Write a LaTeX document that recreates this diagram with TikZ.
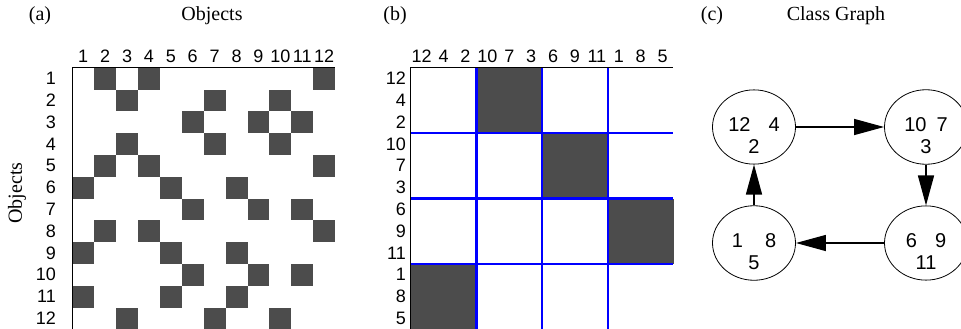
\documentclass[tikz,border=0pt]{standalone}
\usepackage{fontspec}
\setmainfont{Liberation Serif}
\setsansfont{Liberation Sans}
\usepackage{xcolor}
\usetikzlibrary{positioning,arrows.meta,shapes.geometric}
\definecolor{cellgray}{gray}{0.3}
\tikzset{
  ttl/.style={anchor=base,font=\fontsize{20}{24}\selectfont},
  collbl/.style={anchor=base,inner sep=0pt,font=\sffamily\fontsize{18}{20}\selectfont},
  rowlbl/.style={anchor=east,inner sep=0pt,font=\sffamily\fontsize{18}{20}\selectfont},
  cls/.style={draw,ellipse,line width=0.8pt,minimum width=83pt,minimum height=62pt,inner sep=0pt,align=center,font=\sffamily\fontsize{20}{21.5}\selectfont},
  flow/.style={-{Triangle[length=30pt,width=16pt]},line width=1.3pt},
  frame/.style={line width=0.9pt},
  sep/.style={draw=blue,line width=2.2pt},
}

\begin{document}
\begin{tikzpicture}[x=1pt,y=-1pt]
  \useasboundingbox (0,0) rectangle (961,329);
  % titles
  \node[ttl] (pa) at (40,21) {(a)};
  \node[ttl] (ta) at (212,21) {Objects};
  \node[ttl] (pb) at (395,21) {(b)};
  \node[ttl] (pc) at (712,21) {(c)};
  \node[ttl] (tc) at (836,21) {Class Graph};
  \node[ttl,anchor=center,rotate=90] (ya) at (17,193) {Objects};

  % (a) object adjacency, original order
  \foreach \r/\ca/\cb/\cc in {1/2/4/12,2/3/7/10,3/6/9/11,4/3/7/10,5/2/4/12,6/1/5/8,
                              7/6/9/11,8/2/4/12,9/1/5/8,10/6/9/11,11/1/5/8,12/3/7/10}
    \foreach \c in {\ca,\cb,\cc}
      \fill[cellgray] ({72.3+(\c-1)*21.9},{67.7+(\r-1)*21.8}) rectangle +(21.9,21.8);
  \foreach \i in {1,...,12} {
    \node[collbl] (ac\i) at ({72.3+(\i-0.5)*21.9},63) {\i};
    \node[rowlbl] (ar\i) at (56,{67.7+(\i-0.5)*21.8}) {\i};
  }
  \draw[frame] (72.3,332) -- (72.3,67.7) -- (335,67.7);

  % (b) same matrix, sorted by class
  \foreach \r/\c in {0/1,1/2,2/3,3/0}
    \fill[cellgray] ({410.7+3*\c*21.9},{67.7+3*\r*21.8}) rectangle +(65.7,65.4);
  \foreach \n [count=\i] in {12,4,2,10,7,3,6,9,11,1,8,5} {
    \node[collbl] (bc\i) at ({410.7+(\i-0.5)*21.9},63) {\n};
    \node[rowlbl] (br\i) at (406,{67.7+(\i-0.5)*21.8}) {\n};
  }
  \foreach \k in {1,2,3} {
    \draw[sep] ({410.7+3*\k*21.9},67.7) -- ++(0,265);
    \draw[sep] (410.7,{67.7+3*\k*21.8}) -- (673.3,{67.7+3*\k*21.8});
  }
  \draw[frame] (410.7,332) -- (410.7,67.7) -- (673.3,67.7);

  % (c) class graph
  \node[cls] (c1) at (754,127) {\rule{0pt}{31pt}12\hspace{18pt}4\\2};
  \node[cls] (c2) at (926,127) {\rule{0pt}{31pt}10\hspace{10pt}7\\3};
  \node[cls] (c3) at (926,243) {\rule{0pt}{31pt}6\hspace{18pt}9\\11};
  \node[cls] (c4) at (754,243) {\rule{0pt}{31pt}1\hspace{22pt}8\\5};
  \draw[flow] (c1) -- (c2);
  \draw[flow] (c2) -- (c3);
  \draw[flow] (c3) -- (c4);
  \draw[flow] (c4) -- (c1);
\end{tikzpicture}
\end{document}
